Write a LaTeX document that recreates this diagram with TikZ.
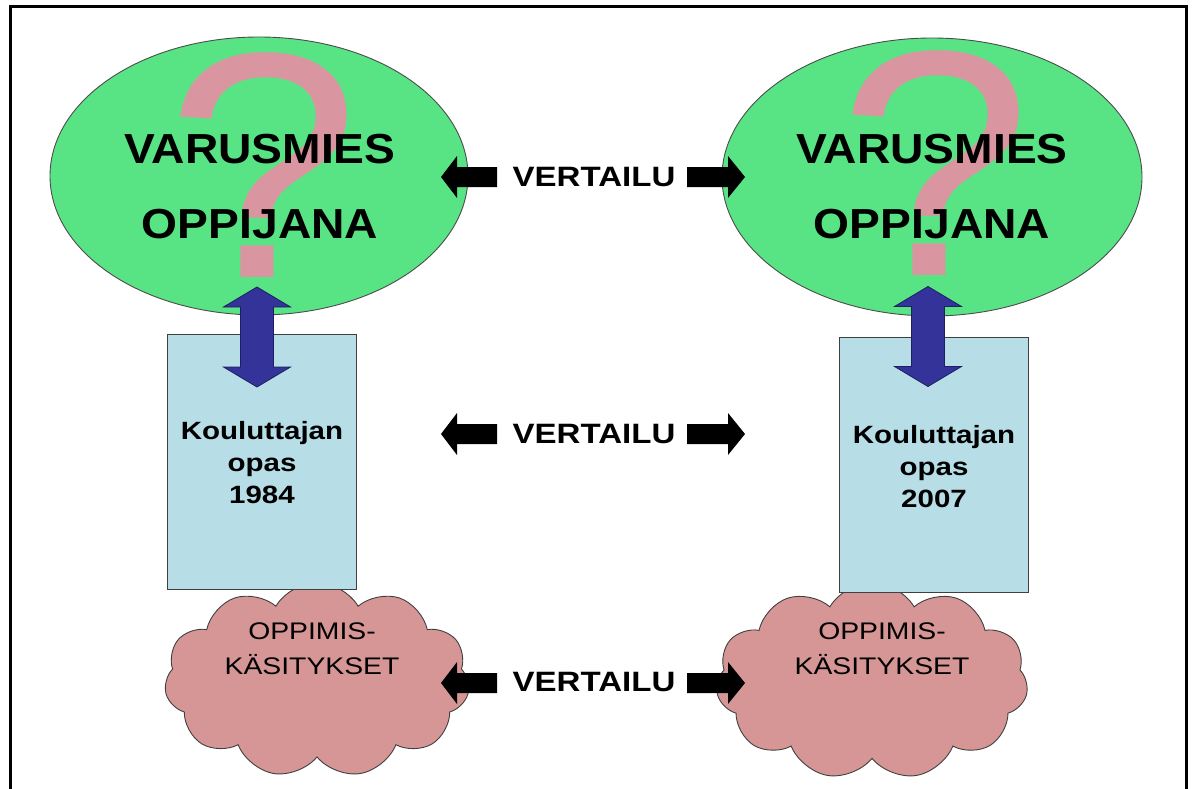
\documentclass[tikz,border=0pt]{standalone}
\usepackage{fontspec}
\setmainfont{Liberation Sans}
\newfontfamily\ArialA[FakeStretch=1.1]{Liberation Sans}
\newfontfamily\ArialB[FakeStretch=1.18]{Liberation Sans}
\newfontfamily\ArialQ[FakeStretch=1.08]{Liberation Sans}
\usetikzlibrary{shapes.geometric,shapes.symbols}
\definecolor{ellgreen}{RGB}{88,228,132}
\definecolor{qpink}{RGB}{218,150,160}
\definecolor{rectblue}{RGB}{183,222,230}
\definecolor{cloudpink}{RGB}{214,150,150}
\definecolor{arrowblue}{RGB}{51,51,153}
\definecolor{arrowedge}{RGB}{30,30,100}
\tikzset{
  bubble/.style={ellipse, draw=black!70, line width=0.9pt, fill=ellgreen, inner sep=0pt},
  qmark/.style={text=qpink, font=\ArialQ\fontsize{322}{322}\selectfont, inner sep=0pt, anchor=base},
  bigtext/.style={font=\ArialA\bfseries\fontsize{42}{75}\selectfont, align=center, anchor=base, inner sep=0pt},
  guidebox/.style={rectangle, draw=black!75, line width=0.9pt, fill=rectblue, inner sep=0pt},
  guidetext/.style={font=\ArialB\bfseries\fontsize{25}{32}\selectfont, align=center, anchor=base, inner sep=0pt},
  cloudy/.style={cloud, cloud puffs=11, cloud puff arc=120, cloud ignores aspect, minimum width=305pt, minimum height=195pt, draw=black!75, fill=cloudpink, line width=0.9pt, inner sep=0pt},
  cloudtext/.style={font=\ArialB\fontsize{24}{35}\selectfont, align=center, anchor=base, inner sep=0pt},
  cmptext/.style={font=\ArialB\bfseries\fontsize{28}{28}\selectfont, anchor=base, inner sep=0pt},
  blackarrow/.style={fill=black},
  bluearrow/.style={fill=arrowblue, draw=arrowedge, line width=0.8pt},
  larrow/.pic={\path[blackarrow] (0,0) -- (16,-21) -- (16,-10) -- (56,-10) -- (56,10) -- (16,10) -- (16,21) -- cycle;},
  rarrow/.pic={\path[blackarrow] (0,0) -- (-17,-21) -- (-17,-10) -- (-58,-10) -- (-58,10) -- (-17,10) -- (-17,21) -- cycle;},
  vdarrow/.pic={\path[bluearrow] (0,-50) -- (33.5,-30) -- (16.5,-30) -- (16.5,30) -- (33.5,30) -- (0,50) -- (-33.5,30) -- (-16.5,30) -- (-16.5,-30) -- (-33.5,-30) -- cycle;}
}
\begin{document}
\begin{tikzpicture}[x=1pt,y=-1pt]
\useasboundingbox (0,0) rectangle (1196,789);
\fill[white] (0,0) rectangle (1196,789);
\draw[line width=3pt] (10.5,7) rectangle (1186.5,800);

% clouds
\node[cloudy] (cloudL) at (317,680) {};
\node[cloudy, minimum width=312pt, minimum height=197pt] (cloudR) at (872,681) {};
\node[cloudtext] (ctL) at (312,674) {OPPIMIS-\\KÄSITYKSET};
\node[cloudtext] (ctR) at (882,674) {OPPIMIS-\\KÄSITYKSET};

% guide boxes
\node[guidebox, minimum width=189pt, minimum height=255pt] (boxL) at (261.5,461.5) {};
\node[guidebox, minimum width=189pt, minimum height=255pt] (boxR) at (933.5,464.5) {};
\node[guidetext] (btL) at (262,503) {Kouluttajan\\opas\\1984};
\node[guidetext] (btR) at (934,507) {Kouluttajan\\opas\\2007};

% ellipses
\node[bubble, minimum width=418pt, minimum height=278pt] (ellL) at (259,176) {};
\node[bubble, minimum width=420pt, minimum height=278pt] (ellR) at (932,177) {};
\node[qmark] (qL) at (263,277) {?};
\node[qmark] (qR) at (935,275) {?};
\node[bigtext] (vtL) at (260,238) {VARUSMIES\\OPPIJANA};
\node[bigtext] (vtR) at (932,238) {VARUSMIES\\OPPIJANA};

% blue double arrows
\pic at (257,337) {vdarrow};
\pic at (928,336.5) {vdarrow};

% comparison arrows
\node[cmptext] (cmp1) at (594,186) {VERTAILU};
\node[cmptext] (cmp2) at (594,443) {VERTAILU};
\node[cmptext] (cmp3) at (594,691) {VERTAILU};
\pic at (441,177) {larrow};
\pic at (745,177) {rarrow};
\pic at (441,434) {larrow};
\pic at (745,434) {rarrow};
\pic at (441,683) {larrow};
\pic at (745,683) {rarrow};
\end{tikzpicture}
\end{document}
